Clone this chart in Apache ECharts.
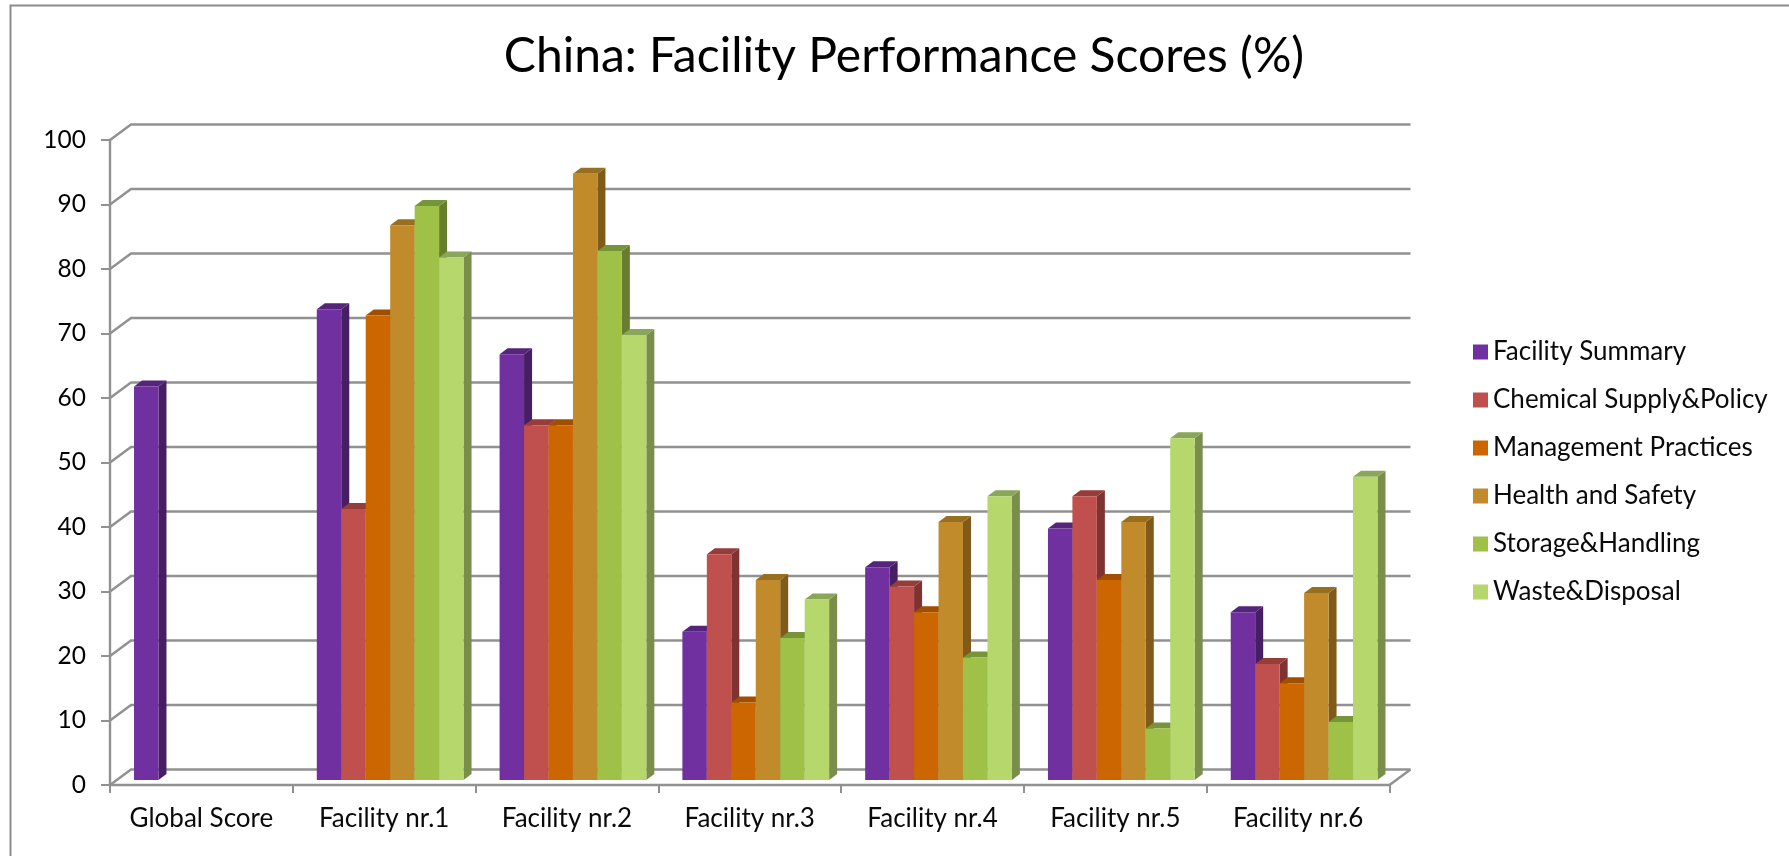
<!DOCTYPE html>
<html>
<head>
<meta charset="utf-8">
<style>
  html, body { margin: 0; padding: 0; background: #fff; }
  #chart { width: 1789px; height: 856px; }
</style>
<script src="https://cdn.jsdelivr.net/npm/echarts@6/dist/echarts.min.js"></script>
</head>
<body>
<div id="chart"></div>
<script>
const categories = ['Global Score', 'Facility nr.1', 'Facility nr.2', 'Facility nr.3', 'Facility nr.4', 'Facility nr.5', 'Facility nr.6'];
const valueTicks = [0, 10, 20, 30, 40, 50, 60, 70, 80, 90, 100];

const facilitySummary = [61, 73, 66, 23, 33, 39, 26];
const chemicalSupply = [null, 42, 55, 35, 30, 44, 18];
const managementPractices = [null, 72, 55, 12, 26, 31, 15];
const healthSafety = [null, 86, 94, 31, 40, 40, 29];
const storageHandling = [null, 89, 82, 22, 19, 8, 9];
const wasteDisposal = [null, 81, 69, 28, 44, 53, 47];

const seriesDefs = [
  { name: 'Facility Summary', values: facilitySummary, face: '#7030a0', side: '#451e63', top: '#54257a' },
  { name: 'Chemical Supply&Policy', values: chemicalSupply, face: '#c0504d', side: '#7f3331', top: '#963c3a' },
  { name: 'Management Practices', values: managementPractices, face: '#cc6600', side: '#854200', top: '#a04f00' },
  { name: 'Health and Safety', values: healthSafety, face: '#c18b2b', side: '#7f5a18', top: '#96701f' },
  { name: 'Storage&Handling', values: storageHandling, face: '#9fc148', side: '#677e2e', top: '#759538' },
  { name: 'Waste&Disposal', values: wasteDisposal, face: '#b5d76c', side: '#7a8e4b', top: '#8aa658' }
];

const AXIS_COLOR = '#919191';
const FONT = 'Lato, "Noto Sans", sans-serif';
// Pseudo-3D projection: depth of the back wall, of the bar plane and of each bar
const WALL_DX = 21, WALL_DY = -15.5;
const PLANE_DX = 6, PLANE_DY = -5;
const BAR_DX = 8, BAR_DY = -6;
const BAR_RATIO = 0.1338;

// Back-wall gridlines with their slanted connectors to the front axis
function renderWall(params, api) {
  const cs = params.coordSys;
  const v = api.value(0);
  const y = api.coord([0, v])[1];
  const x0 = cs.x, x1 = cs.x + cs.width;
  const style = { stroke: AXIS_COLOR, lineWidth: 2.4, fill: null };
  const children = [{
    type: 'polyline',
    shape: { points: [[x0, y], [x0 + WALL_DX, y + WALL_DY], [x1 + WALL_DX, y + WALL_DY]] },
    style
  }];
  if (v === 0) {
    children.push({
      type: 'line',
      shape: { x1: x1, y1: y, x2: x1 + WALL_DX, y2: y + WALL_DY },
      style
    });
  }
  return { type: 'group', children };
}

// One extruded bar: front face, right side and top
function makeBarRenderer(index, def) {
  return function (params, api) {
    const cat = api.value(0), val = api.value(1);
    const w = api.size([1, 0])[0] * BAR_RATIO;
    const centre = api.coord([cat, 0]);
    const left = centre[0] + PLANE_DX + (index - 3) * w;
    const right = left + w;
    const base = centre[1] + PLANE_DY;
    const top = api.coord([cat, val])[1] + PLANE_DY;
    return {
      type: 'group',
      children: [
        { type: 'polygon', shape: { points: [[right, top], [right + BAR_DX, top + BAR_DY], [right + BAR_DX, base + BAR_DY], [right, base]] }, style: { fill: def.side } },
        { type: 'polygon', shape: { points: [[left, top], [left + BAR_DX, top + BAR_DY], [right + BAR_DX, top + BAR_DY], [right, top]] }, style: { fill: def.top } },
        { type: 'rect', shape: { x: left, y: top, width: w, height: base - top }, style: { fill: def.face } }
      ]
    };
  };
}

const chart = echarts.init(document.getElementById('chart'));
chart.setOption({
  animation: false,
  backgroundColor: '#ffffff',
  title: {
    text: 'China: Facility Performance Scores (%)',
    left: 899,
    top: 28,
    textAlign: 'center',
    textStyle: { fontFamily: FONT, fontSize: 48, fontWeight: 'normal', color: '#000' }
  },
  legend: {
    orient: 'vertical',
    left: 1468,
    top: 334,
    itemWidth: 15,
    itemHeight: 15,
    itemGap: 22,
    icon: 'rect',
    data: seriesDefs.map(d => d.name),
    textStyle: { fontFamily: FONT, fontSize: 26, color: '#0a0a0a', lineHeight: 25 }
  },
  grid: { left: 110, top: 140, width: 1279.5, height: 645 },
  xAxis: {
    type: 'category',
    data: categories,
    boundaryGap: true,
    axisLine: { lineStyle: { color: AXIS_COLOR, width: 2.4 } },
    axisTick: { show: true, interval: 0, alignWithLabel: false, length: 8, lineStyle: { color: AXIS_COLOR, width: 2 } },
    axisLabel: { interval: 0, fontFamily: FONT, fontSize: 26, color: '#0a0a0a', margin: 21 },
    splitLine: { show: false }
  },
  yAxis: {
    type: 'value',
    min: 0,
    max: 100,
    interval: 10,
    axisLine: { show: true, lineStyle: { color: AXIS_COLOR, width: 2.4 } },
    axisTick: { show: true, length: 9, lineStyle: { color: AXIS_COLOR, width: 2 } },
    axisLabel: { fontFamily: FONT, fontSize: 24.5, color: '#000', margin: 24 },
    splitLine: { show: false }
  },
  graphic: [{
    // Chart-area frame: visible along the top and left edges
    type: 'polyline',
    silent: true,
    shape: { points: [[10.5, 856], [10.5, 5.5], [1789, 5.5]] },
    style: { stroke: '#8c8c8c', lineWidth: 2, fill: null }
  }],
  series: [
    {
      type: 'custom',
      name: 'wall',
      silent: true,
      clip: false,
      z: 1,
      coordinateSystem: 'cartesian2d',
      renderItem: renderWall,
      encode: { y: 0 },
      data: valueTicks.map(v => [v])
    }
  ].concat(seriesDefs.map((def, i) => ({
    type: 'custom',
    name: def.name,
    clip: false,
    z: 3 + i,
    itemStyle: { color: def.face },
    renderItem: makeBarRenderer(i, def),
    encode: { x: 0, y: 1 },
    data: def.values.map((v, c) => [c, v]).filter(p => p[1] !== null)
  })))
});
</script>
</body>
</html>
